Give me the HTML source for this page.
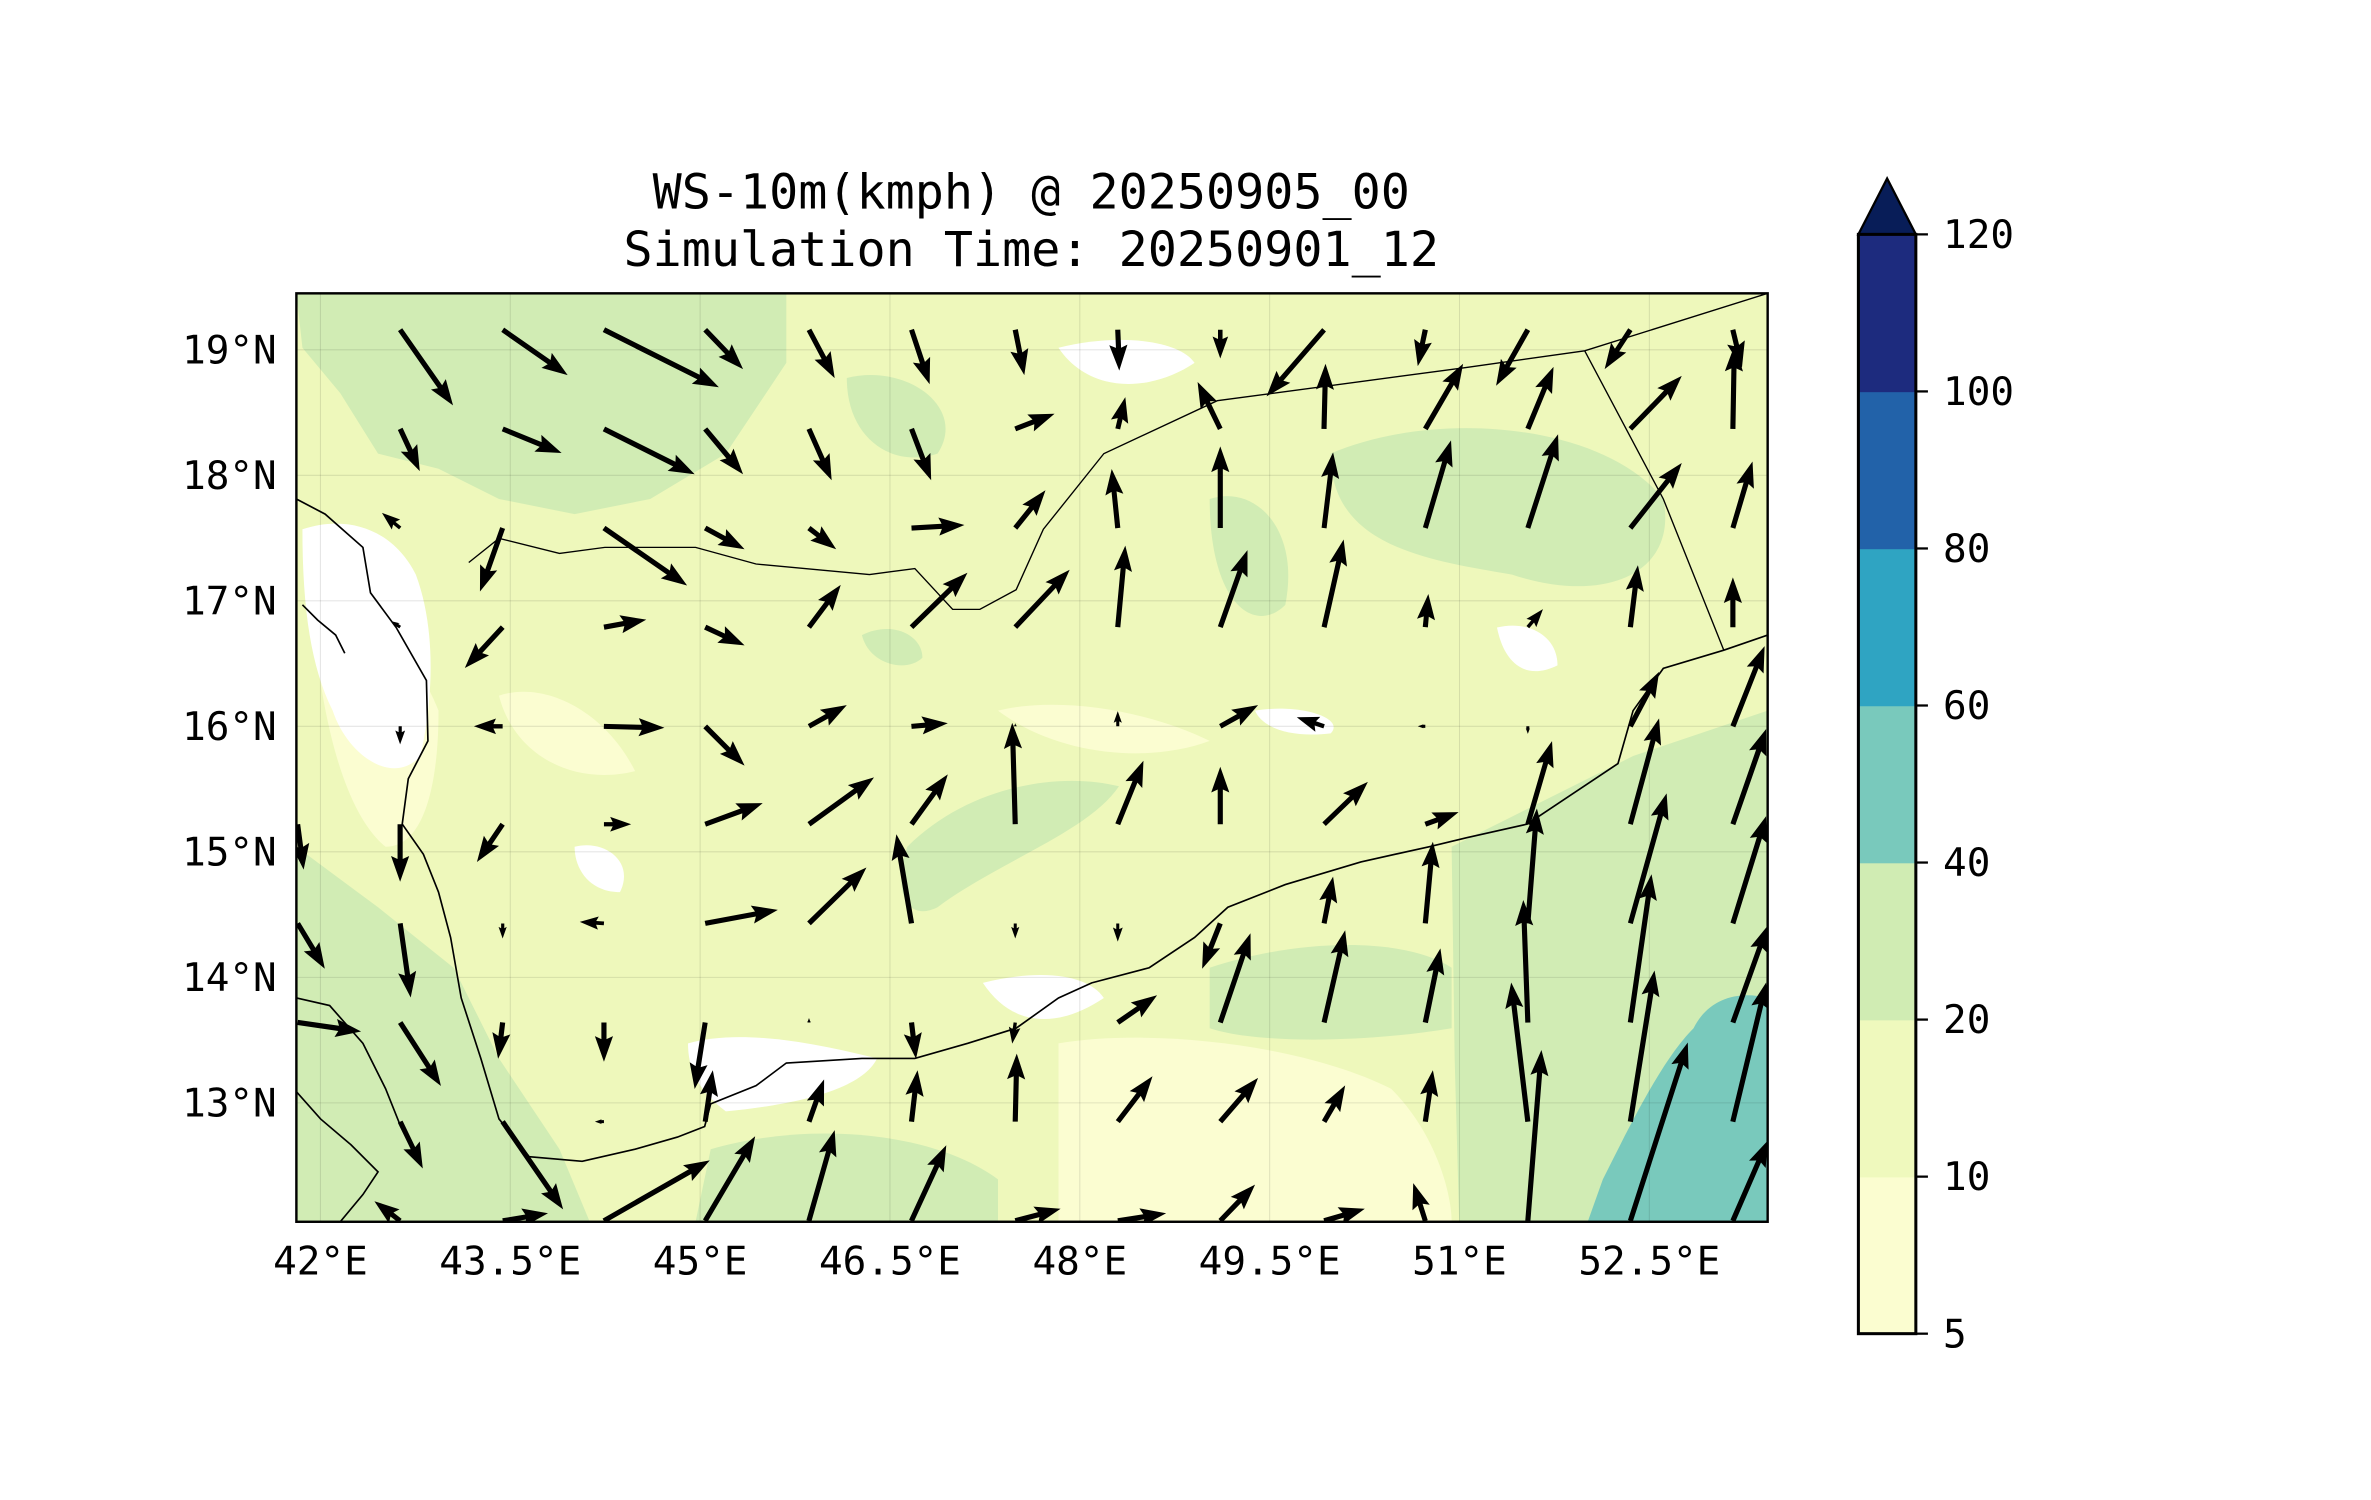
<!DOCTYPE html>
<html><head><meta charset="utf-8">
<style>
html,body{margin:0;padding:0;background:#fff;}
svg{display:block;}
text{font-family:"DejaVu Sans Mono","Liberation Mono",monospace;fill:#000;}
</style></head>
<body>
<svg id="chart" width="2371" height="1500" viewBox="0 0 1568 992" xmlns="http://www.w3.org/2000/svg">
  <defs><clipPath id="mapclip"><rect x="196" y="194" width="973" height="614"/></clipPath></defs>
  <text x="682" y="138" font-size="32" text-anchor="middle">WS-10m(kmph) @ 20250905_00</text>
  <text x="682" y="176" font-size="32" text-anchor="middle">Simulation Time: 20250901_12</text>

  <g clip-path="url(#mapclip)">
    <rect x="196" y="194" width="973" height="614" fill="#eef8bb"/>
    <g fill="#d1ecb4">
      <path d="M196,194 L520,194 L520,240 L480,300 L430,330 L380,340 L330,330 L290,310 L250,300 L225,260 L200,230 Z"/>
      <path d="M560,250 C600,240 640,270 620,300 C590,310 560,290 560,250 Z"/>
      <path d="M880,300 C950,270 1060,280 1100,330 C1110,380 1060,400 1000,380 C940,370 880,360 880,300 Z"/>
      <path d="M800,330 C830,320 860,350 850,400 C830,420 800,400 800,330 Z"/>
      <path d="M960,560 L1020,530 L1080,500 L1169,470 L1169,808 L965,808 L962,700 Z"/>
      <path d="M196,560 L250,600 L300,640 L330,700 L370,760 L390,808 L196,808 Z"/>
      <path d="M600,560 C640,520 700,510 740,520 C720,550 660,570 620,600 C600,610 590,590 600,560 Z"/>
      <path d="M470,760 C540,740 620,750 660,780 L660,808 L460,808 Z"/>
      <path d="M800,640 C860,620 930,620 960,640 L960,680 C900,690 830,690 800,680 Z"/>
      <path d="M570,420 C590,410 610,420 610,435 C600,445 575,440 570,420 Z"/>
    </g>
    <g fill="#79c9bc">
      <path d="M1060,780 C1080,740 1100,700 1120,680 C1130,660 1150,655 1169,660 L1169,808 L1050,808 Z"/>
    </g>
    <g fill="#fbfdd1">
      <path d="M700,690 C760,680 860,690 920,720 C950,750 960,790 960,808 L700,808 Z"/>
      <path d="M205,380 C230,390 270,420 290,470 C290,520 280,560 255,560 C230,540 210,480 205,380 Z"/>
      <path d="M660,470 C700,460 760,470 800,490 C760,505 700,500 660,470 Z"/>
      <path d="M330,460 C360,450 400,470 420,510 C380,520 340,500 330,460 Z"/>
    </g>
    <g fill="#ffffff">
      <path d="M200,350 C230,340 260,350 275,380 C290,420 285,470 278,500 C260,520 230,500 220,470 C205,440 200,400 200,350 Z"/>
      <path d="M455,690 C490,680 540,690 580,700 C570,720 530,730 480,735 C460,720 455,705 455,690 Z"/>
      <path d="M650,650 C690,640 720,645 730,660 C700,680 670,680 650,650 Z"/>
      <path d="M700,230 C740,220 780,225 790,240 C760,260 720,260 700,230 Z"/>
      <path d="M990,415 C1010,410 1030,420 1030,440 C1010,450 995,440 990,415 Z"/>
      <path d="M380,560 C400,555 420,570 410,590 C390,590 380,575 380,560 Z"/>
      <path d="M830,470 C860,465 890,475 880,485 C855,488 835,482 830,470 Z"/>
    </g>
    <g id="grid" stroke="#000" stroke-opacity="0.1" stroke-width="0.7"></g>
    <g fill="none" stroke="#000" stroke-width="1.1">
      <path d="M196,330 L215,340 L240,362 L245,392 L262,415 L282,450 L283,490 L270,515 L266,545 L280,565 L290,590 L298,620 L305,660 L318,700 L330,740 L350,765 L385,768 L420,760 L448,752 L466,745 L470,730 L500,718 L520,703 L570,700 L605,700 L640,690 L672,680 L700,660 L722,650 L760,640 L790,620 L812,600 L850,585 L900,570 L945,560 L970,554 L1010,545 L1040,525 L1070,505 L1080,470 L1100,442 L1140,430 L1169,420"/>
      <path d="M196,660 L218,665 L240,690 L255,720 L265,745 L278,770"/>
      <path d="M196,722 L212,740 L232,757 L250,775 L240,790 L225,808"/>
      <path stroke-width="0.9" d="M310,372 L330,356 L370,366 L400,362 L460,362 L500,373 L575,380 L605,376 L630,403 L648,403 L672,390 L690,350 L730,300 L805,265 L970,243 L1048,232 L1169,194"/>
      <path stroke-width="0.9" d="M1048,232 L1100,330 L1140,430"/>
      <path d="M200,400 L210,410 L222,420 L228,432"/>
    </g>
    <g id="arrows" fill="#000"></g>
  </g>
  <rect x="196" y="194" width="973" height="614" fill="none" stroke="#000" stroke-width="1.6"/>
  <g id="yticks"></g>
  <g id="xticks"></g>
  <g id="colorbar"></g>
</svg>
<script>
// --- data ---
const lons = [41.82, 42.63, 43.44, 44.24, 45.04, 45.86, 46.67, 47.49, 48.30, 49.11, 49.93, 50.73, 51.54, 52.35, 53.16];
const lats = [19.16, 18.37, 17.58, 16.79, 16.00, 15.22, 14.43, 13.64, 12.85, 12.06];
const uRows = [
 [0,35,43,76,25,17,12,6,1,0,-38,-5,-21,-17,6],
 [0,13,39,60,25,15,13,26,5,-15,1,25,17,34,1],
 [0,-12,-15,55,26,18,35,20,-4,0,6,17,20,34,13],
 [0,-6,-25,28,26,21,37,36,5,18,13,2,10,5,0],
 [0,0,-19,40,26,25,24,0,0,25,-18,-5,0,19,21],
 [4,0,-17,18,38,43,24,-2,17,0,29,22,16,19,22],
 [18,7,0,-16,48,38,-10,0,0,-12,6,5,6,24,22],
 [42,27,-3,0,-7,0,3,-2,26,20,14,10,-3,14,23],
 [0,15,40,-6,5,10,4,1,23,25,14,5,-11,16,22],
 [0,-17,30,70,33,17,23,30,32,23,27,-8,9,38,23]
];
const vRows = [
 [0,-50,-30,-38,-26,-32,-36,-30,-27,-19,-44,-24,-37,-26,-25],
 [0,-28,-16,-30,-30,-34,-34,10,21,31,43,43,41,35,55],
 [0,10,-42,-38,-14,-14,2,25,39,54,50,58,62,43,44],
 [0,4,-27,5,-12,28,36,38,54,51,58,22,12,41,33],
 [0,-12,0,-1,-26,14,2,2,10,14,6,0,-5,36,53],
 [-30,-38,-25,0,14,31,33,67,42,38,28,8,55,70,63],
 [-30,-49,-10,1,9,37,59,-10,-12,-30,31,54,76,86,71],
 [-6,-42,-24,-26,-44,3,-24,-14,18,59,61,49,81,98,64],
 [0,-31,-58,0,34,28,34,45,30,29,24,34,92,100,92],
 [0,13,5,40,56,60,50,8,5,24,8,25,113,118,53]
];
const latTicks = [19,18,17,16,15,14,13];
const latLabels = ["19°N","18°N","17°N","16°N","15°N","14°N","13°N"];
const lonTicks = [42,43.5,45,46.5,48,49.5,51,52.5];
const lonLabels = ["42°E","43.5°E","45°E","46.5°E","48°E","49.5°E","51°E","52.5°E"];
const cbLevels = [5,10,20,40,60,80,100,120];
const cbColors = ["#fbfdd0","#eff9bd","#d0ecb3","#79c9bc","#2fa4c2","#2262a9","#1d2b7e"];
const cbExtendColor = "#081d58";

// --- axes ---
const NS="http://www.w3.org/2000/svg";
function xOf(lon){return 196+(lon-41.81)*83.7;}
function yOf(lat){return 194+(19.45-lat)*83;}
function mk(tag,attrs,parent){const e=document.createElementNS(NS,tag);for(const k in attrs)e.setAttribute(k,attrs[k]);parent.appendChild(e);return e;}

const grid=document.getElementById('grid');
latTicks.forEach(function(la){
  const l=mk('line',{x1:196,x2:1169,y1:yOf(la),y2:yOf(la)},grid);
  
  
});
lonTicks.forEach(function(lo){
  const l=mk('line',{x1:xOf(lo),x2:xOf(lo),y1:194,y2:808},grid);
  
  
});
const yt=document.getElementById('yticks');
latTicks.forEach(function(la,i){
  const t=mk('text',{x:183,y:yOf(la)+9,'font-size':26,'text-anchor':'end'},yt);
  t.textContent=latLabels[i];
  
  
});
const xt=document.getElementById('xticks');
lonTicks.forEach(function(lo,i){
  const t=mk('text',{x:xOf(lo),y:843,'font-size':26,'text-anchor':'middle'},xt);
  t.textContent=lonLabels[i];
  
  
});

// --- arrows ---
const ag=document.getElementById('arrows');
const W=3.4, HW=12, HL=17, HAL=15;
for(let r=0;r<lats.length;r++){
  for(let c=0;c<lons.length;c++){
    const u=uRows[r][c], v=vRows[r][c];
    const L=Math.hypot(u,v);
    if(L<1)continue;
    const x0=xOf(lons[c]), y0=yOf(lats[r]);
    let s=1; if(L<HL*1.3) s=L/(HL*1.3);
    const w=W*Math.max(s,0.6), hw=HW*s, hl=HL*s, hal=HAL*s;
    const pts=[[0,-w/2],[L-hal,-w/2],[L-hl,-hw/2],[L,0],[L-hl,hw/2],[L-hal,w/2],[0,w/2]];
    const ang=Math.atan2(-v,u);
    const ca=Math.cos(ang), sa=Math.sin(ang);
    const p=pts.map(function(q){return (x0+q[0]*ca-q[1]*sa).toFixed(1)+','+(y0+q[0]*sa+q[1]*ca).toFixed(1);}).join(' ');
    const a=mk('polygon',{points:p},ag);
    
    
  }
}

// --- colorbar ---
const cb=document.getElementById('colorbar');
const cbX=1229, cbW=38, cbTop=155, cbBot=882;
function cbY(i){return cbBot-(cbBot-cbTop)*i/(cbLevels.length-1);}
for(let i=0;i<cbColors.length;i++){
  const r=mk('rect',{x:cbX,y:cbY(i+1),width:cbW,height:cbY(i)-cbY(i+1)+0.5,fill:cbColors[i]},cb);
  
  
}
const tri=mk('polygon',{points:cbX+','+cbTop+' '+(cbX+cbW/2)+',118 '+(cbX+cbW)+','+cbTop,fill:cbExtendColor,stroke:'#000','stroke-width':1.5},cb);


const fr=mk('rect',{x:cbX,y:cbTop,width:cbW,height:cbBot-cbTop,fill:'none',stroke:'#000','stroke-width':2},cb);


cbLevels.forEach(function(lv,i){
  const y=cbY(i);
  const tk=mk('line',{x1:cbX+cbW,x2:cbX+cbW+8,y1:y,y2:y,stroke:'#000','stroke-width':1.5},cb);
  
  
  const t=mk('text',{x:1285,y:y+9,'font-size':26},cb);
  t.textContent=String(lv);
  
  
});
</script>
</body></html>
